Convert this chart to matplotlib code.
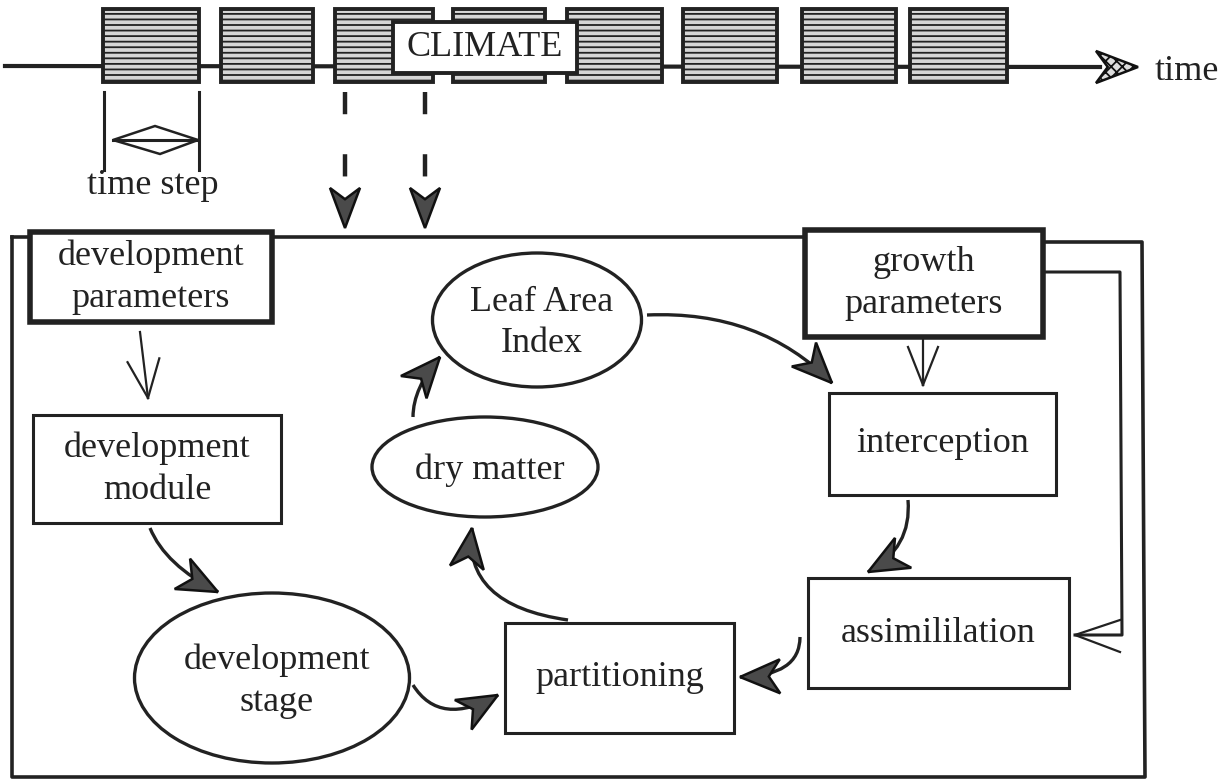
import numpy as np
import matplotlib.pyplot as plt
from matplotlib.patches import Rectangle, Ellipse, Polygon, PathPatch
from matplotlib.path import Path

plt.rcParams['font.family'] = ['Liberation Serif', 'DejaVu Serif']
plt.rcParams['hatch.linewidth'] = 1.3

# texts of the diagram
box_labels = ['development\nparameters', 'development\nmodule', 'growth\nparameters',
              'interception', 'assimililation', 'partitioning']
ellipse_labels = ['Leaf Area\nIndex', 'dry matter', 'development\nstage']
climate_label = 'CLIMATE'
time_label = 'time'
step_label = 'time step'

# layout in pixels (x0, y0, x1, y1), y downwards
box_pos = [(30, 232, 272, 322), (33, 415, 281, 523), (805, 230, 1043, 337),
           (829, 393, 1056, 495), (808, 578, 1069, 688), (505, 623, 734, 733)]
box_lw = [4, 2.2, 4, 2.2, 2.2, 2.2]
ellipse_pos = [(537, 320, 209, 134), (485, 467, 226, 100), (272, 678, 275, 170)]
climate_x = [(103, 199), (221, 313), (335, 433), (453, 545),
             (567, 662), (683, 777), (802, 896), (910, 1007)]

INK = '#222222'
FS = 26
LS = 1.35

fig = plt.figure(figsize=(12.32, 7.8), dpi=100)
ax = fig.add_axes([0, 0, 1, 1])
ax.set_xlim(0, 1232)
ax.set_ylim(780, 0)
ax.axis('off')


def stealth(tip, direction, L=40, W=17, fc='#4a4a4a', hatch=None):
    d = np.asarray(direction, float)
    d = d / np.hypot(*d)
    n = np.array([-d[1], d[0]])
    tip = np.asarray(tip, float)
    back = tip - d * L
    pts = [tip, back + n * W, tip - d * L * 0.72, back - n * W]
    ax.add_patch(Polygon(pts, closed=True, fc=fc, ec='#111111', lw=1.8,
                         hatch=hatch, zorder=6))


def curved_arrow(start, ctrl, tip):
    path = Path([start, ctrl, tip], [Path.MOVETO, Path.CURVE3, Path.CURVE3])
    ax.add_patch(PathPatch(path, fc='none', ec=INK, lw=2.4, zorder=4))
    stealth(tip, np.subtract(tip, ctrl))


def open_arrow(p0, p1, head=(16, 38), lw=1.6):
    p0 = np.asarray(p0, float)
    p1 = np.asarray(p1, float)
    d = (p1 - p0) / np.hypot(*(p1 - p0))
    n = np.array([-d[1], d[0]])
    ax.plot([p0[0], p1[0]], [p0[1], p1[1]], color=INK, lw=lw, zorder=4)
    for s in (1, -1):
        q = p1 - d * head[1] + s * n * head[0]
        ax.plot([q[0], p1[0]], [q[1], p1[1]], color=INK, lw=lw, zorder=4)


# timeline with climate steps
ax.plot([5, 1100], [66, 67], color=INK, lw=3, zorder=1)
stealth((1138, 67), (1, 0), L=42, W=16, fc='#dddddd', hatch='xxx')
for x0, x1 in climate_x:
    ax.add_patch(Rectangle((x0, 9), x1 - x0, 73, fc='#d6d6d6', ec=INK, lw=2.8,
                           hatch='---', zorder=2))
ax.add_patch(Rectangle((393, 22), 184, 51, fc='white', ec=INK, lw=2.8, zorder=3))
ax.text(485, 48, climate_label, fontsize=FS, ha='center', va='center', color=INK, zorder=4)
ax.text(1155, 72, time_label, fontsize=FS, ha='left', va='center', color=INK)

# time step marker
for x in (104, 199):
    ax.plot([x, x], [92, 170], color=INK, lw=2.2)
ax.plot([113, 198], [140, 140], color=INK, lw=2.2)
ax.add_patch(Polygon([(113, 140), (155, 126), (198, 140), (160, 154)], closed=True,
                     fc='none', ec=INK, lw=1.8))
ax.text(153, 186, step_label, fontsize=FS, ha='center', va='center', color=INK)

# dashed climate input arrows
for x in (345, 425):
    ax.plot([x, x], [92, 188], color=INK, lw=3.2, dashes=(5, 9))
    stealth((x, 228), (0, 1), L=40, W=15)

# outer frame and feedback line
ax.plot([12, 805], [237, 237], color=INK, lw=2.6)
ax.plot([1043, 1142, 1145, 12, 12], [242, 242, 777, 777, 237], color=INK, lw=2.6)
ax.plot([1043, 1120, 1122, 1075], [272, 272, 635, 635], color=INK, lw=2.2)
ax.plot([1120, 1075, 1120], [620, 635, 652], color=INK, lw=1.6)

# boxes and ellipses
for (x0, y0, x1, y1), lab, lw in zip(box_pos, box_labels, box_lw):
    ax.add_patch(Rectangle((x0, y0), x1 - x0, y1 - y0, fc='white', ec=INK, lw=lw, zorder=3))
    ax.text((x0 + x1) / 2, (y0 + y1) / 2, lab, fontsize=FS, ha='center', va='center',
            color=INK, linespacing=LS, zorder=5)
for (cx, cy, w, h), lab in zip(ellipse_pos, ellipse_labels):
    ax.add_patch(Ellipse((cx, cy), w, h, fc='white', ec=INK, lw=2.4, zorder=3))
    ax.text(cx + 5, cy + 3, lab, fontsize=FS, ha='center', va='center', color=INK,
            linespacing=LS, zorder=5)

# flow arrows
open_arrow((140, 332), (148, 398))
open_arrow((923, 340), (923, 385), head=(15, 38))
curved_arrow((150, 528), (165, 565), (218, 592))
curved_arrow((413, 685), (440, 728), (498, 695))
curved_arrow((568, 620), (462, 605), (472, 528))
curved_arrow((413, 417), (413, 388), (440, 357))
curved_arrow((647, 315), (760, 310), (832, 383))
curved_arrow((908, 500), (912, 548), (868, 572))
curved_arrow((800, 637), (800, 676), (740, 677))

fig.savefig('out.png', dpi=100, facecolor='white')
